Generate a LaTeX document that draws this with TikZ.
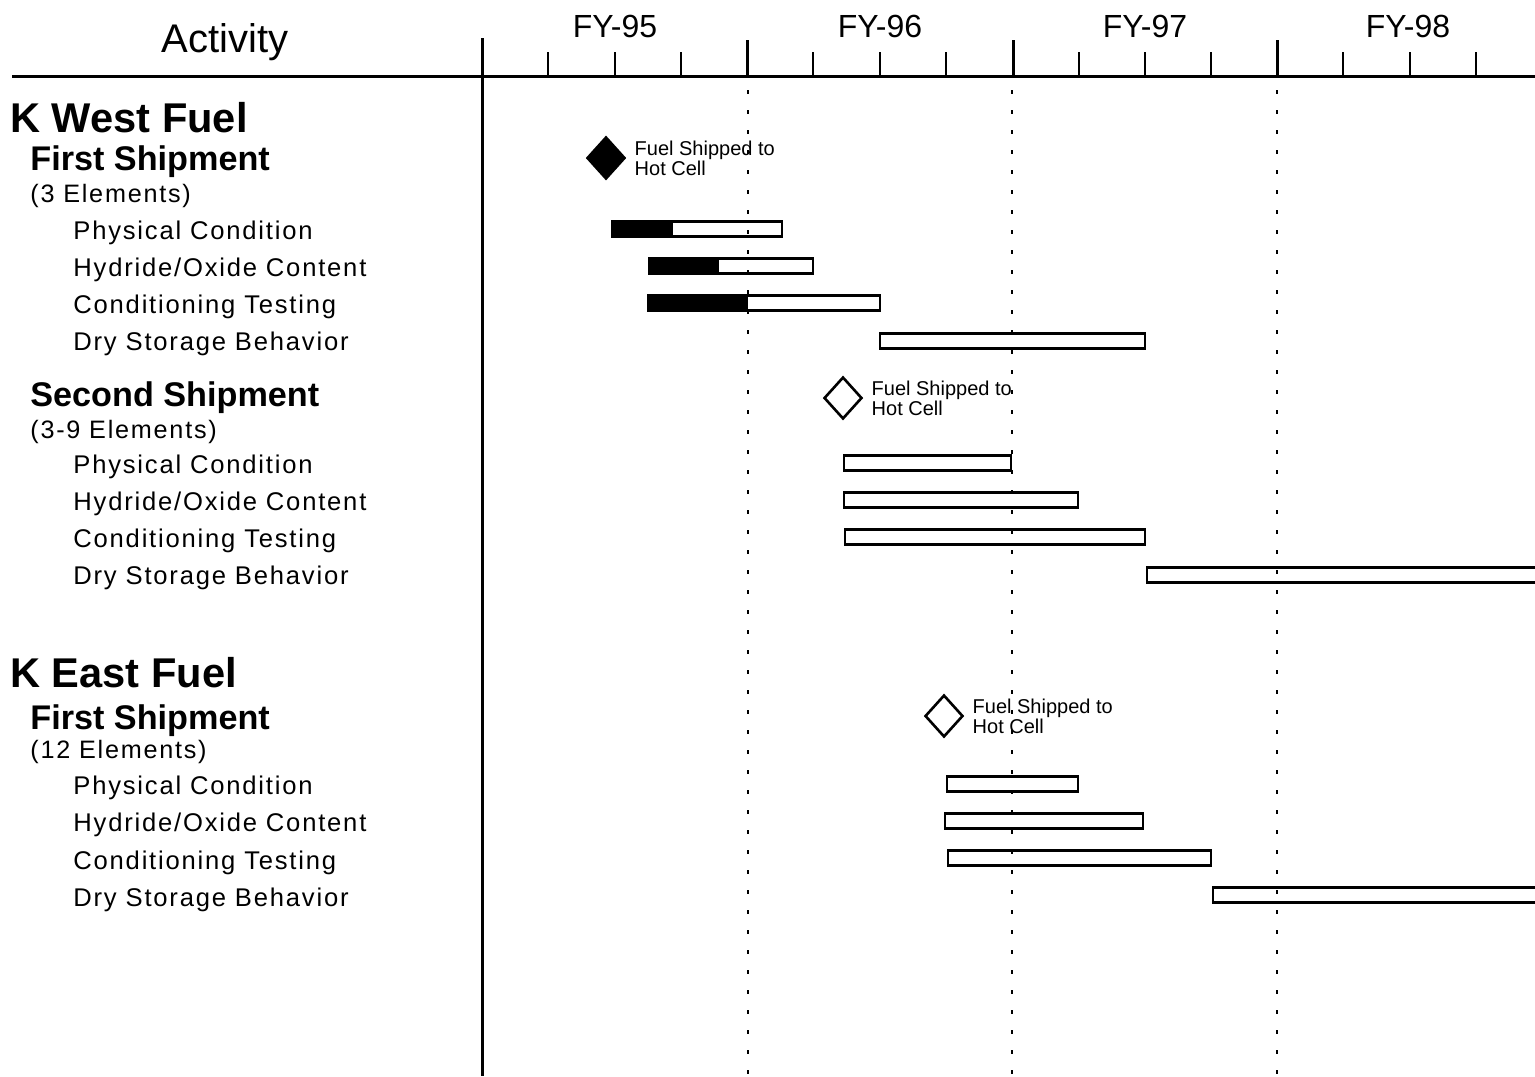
\documentclass[tikz,border=0pt]{standalone}
\usepackage{fontspec}
\setmainfont{Liberation Sans}
\newfontfamily\trackfont[LetterSpace=7]{Liberation Sans}
\usetikzlibrary{shapes.geometric,positioning}
\tikzset{
    axisline/.style={line width=1.5pt},
    qtick/.style={line width=1.3pt},
    yeargrid/.style={line width=1pt, dash pattern=on 2pt off 8pt},
    colhead/.style={inner sep=0pt, font=\fontsize{20}{22}\selectfont},
    fylabel/.style={inner sep=0pt, font=\fontsize{16}{18}\selectfont},
    fuelhead/.style={anchor=west, inner sep=0pt, font=\fontsize{20.8}{22}\selectfont\bfseries},
    shiphead/.style={anchor=west, inner sep=0pt, font=\fontsize{17.1}{18}\selectfont\bfseries},
    elemcount/.style={anchor=west, inner sep=0pt, font=\trackfont\fontsize{12.6}{14}\selectfont},
    task/.style={anchor=west, inner sep=0pt, font=\trackfont\fontsize{12.8}{14}\selectfont},
    taskbar/.style={draw=black, line width=1.1pt},
    milestone/.style={
        diamond,
        draw=black,
        line width=1.3pt,
        inner sep=0pt,
        minimum width=19pt,
        minimum height=21pt
    },
    mstext/.style={align=left, inner sep=0pt, font=\fontsize{10}{10}\selectfont}
}

\begin{document}
\begin{tikzpicture}[x=0.5pt, y=-0.5pt]
\useasboundingbox (0,0) rectangle (1535,1076);

% header and time axis
\node[colhead] (activity) at (225,42) {Activity};
\foreach \yr/\x in {95/615, 96/880, 97/1145, 98/1408}
    \node[fylabel] (fy-\yr) at (\x,26) {FY-\yr};
\draw[axisline] (12,76) -- (1535,76);
\draw[axisline] (482,38) -- (482,1076);
\foreach \x in {747, 1013, 1277}
    \draw[axisline] (\x,40) -- (\x,76);
\foreach \x in {548, 615, 681, 813, 880, 946, 1079, 1145, 1211, 1343, 1410, 1476}
    \draw[qtick] (\x,52) -- (\x,76);
\foreach \x in {748, 1012, 1277}
    \draw[yeargrid] (\x,90) -- (\x,1076);

% K West Fuel
\node[fuelhead] (kw-fuel) at (10,118) {K West Fuel};
\node[shiphead] (kw1-ship) at (30,162) {First Shipment};
\node[elemcount] (kw1-count) at (30,196) {(3 Elements)};
\node[task] (kw1-phys) at (73,233) {Physical Condition};
\node[task] (kw1-hydr) at (73,270) {Hydride/Oxide Content};
\node[task] (kw1-cond) at (73,307) {Conditioning Testing};
\node[task] (kw1-dry) at (73,344) {Dry Storage Behavior};

\node[milestone, fill=black] (kw1-ms) at (606,158) {};
\node[mstext, right=4pt of kw1-ms] (kw1-mstext) {Fuel Shipped to\\Hot Cell};

\node[shiphead] (kw2-ship) at (30,398) {Second Shipment};
\node[elemcount] (kw2-count) at (30,432) {(3-9 Elements)};
\node[task] (kw2-phys) at (73,467) {Physical Condition};
\node[task] (kw2-hydr) at (73,504) {Hydride/Oxide Content};
\node[task] (kw2-cond) at (73,541) {Conditioning Testing};
\node[task] (kw2-dry) at (73,578) {Dry Storage Behavior};

\node[milestone] (kw2-ms) at (843,398) {};
\node[mstext, right=4pt of kw2-ms] (kw2-mstext) {Fuel Shipped to\\Hot Cell};

% K East Fuel
\node[fuelhead] (ke-fuel) at (10,673) {K East Fuel};
\node[shiphead] (ke1-ship) at (30,721) {First Shipment};
\node[elemcount] (ke1-count) at (30,752) {(12 Elements)};
\node[task] (ke1-phys) at (73,788) {Physical Condition};
\node[task] (ke1-hydr) at (73,825) {Hydride/Oxide Content};
\node[task] (ke1-cond) at (73,863) {Conditioning Testing};
\node[task] (ke1-dry) at (73,900) {Dry Storage Behavior};

\node[milestone] (ke1-ms) at (944,716) {};
\node[mstext, right=4pt of ke1-ms] (ke1-mstext) {Fuel Shipped to\\Hot Cell};

% bars: completed part in black
\foreach \y/\xa/\xb in {229/612/673, 266/649/719, 303/648/748}
    \fill ({\xa},{\y-8}) rectangle ({\xb},{\y+8});
\foreach \y/\xa/\xb in {229/612/782, 266/649/813, 303/648/880, 341/880/1145,
                        463/844/1011, 500/844/1078, 537/845/1145, 575/1147/1550,
                        784/947/1078, 821/945/1143, 858/948/1211, 895/1213/1550}
    \draw[taskbar] ({\xa},{\y-7.5}) rectangle ({\xb},{\y+7.5});
\end{tikzpicture}
\end{document}
